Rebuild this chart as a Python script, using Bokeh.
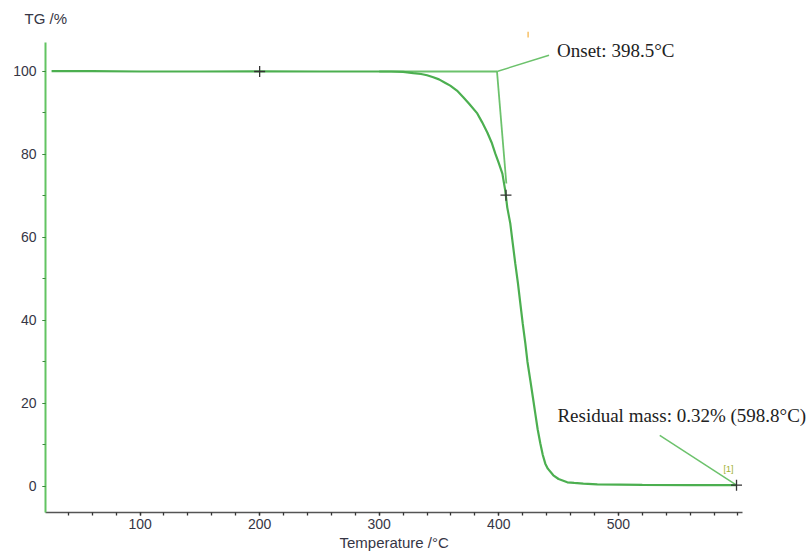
from bokeh.plotting import figure
from bokeh.models import Range1d, FixedTicker, Label, Title
from bokeh.embed import file_html
from bokeh.resources import INLINE

# TG curve (temperature in °C, mass in %)
temp = [26, 60, 100, 150, 200, 250, 300, 310, 320, 328.5, 335, 340, 345.2,
        350, 355, 359.4, 365, 370.3, 375, 382.0, 386, 390.4, 394, 397.1, 400,
        403.0, 405.4, 407.1, 409.6, 411.7, 413.8, 416, 418.0, 420, 422.2, 424,
        426.4, 428.5, 430.5, 432.5, 434.7, 436.8, 438.9, 441, 445.6, 450,
        457.3, 463, 470.7, 482.4, 520, 560, 598.8]
mass = [100.1, 100.1, 100.0, 100.0, 100.05, 100.0, 100.0, 100.0, 99.9, 99.6,
        99.4, 99.1, 98.6, 98.1, 97.3, 96.6, 95.4, 93.8, 92.3, 89.9, 87.8, 85.3,
        82.9, 80.2, 77.9, 75.4, 71.3, 67.2, 63.4, 58.5, 53.7, 49.0, 44.1, 39.3,
        34.5, 30.0, 25.5, 21.5, 17.6, 13.8, 10.4, 7.6, 5.5, 4.3, 2.7, 1.8,
        1.0, 0.85, 0.7, 0.5, 0.4, 0.35, 0.32]

marker_t = [200, 406, 598.8]
marker_m = [100, 70.2, 0.32]

onset_t = 398.5
onset_base_t = [300, 398.5]
onset_base_m = [100, 100]
tangent_t = [398.5, 406.3]
tangent_m = [100, 73.0]
onset_leader_t = [398.5, 442.0]
onset_leader_m = [100, 103.9]

residual_t = 598.8
residual_m = 0.32
residual_leader_t = [534.6, 598.8]
residual_leader_m = [12.3, 0.32]

orange_mark_t = [424.5, 424.5]
orange_mark_m = [109.6, 108.2]

x_ticks = [100, 200, 300, 400, 500]
x_minor = list(range(20, 620, 20))
y_ticks = [0, 20, 40, 60, 80, 100]
y_minor = list(range(0, 110, 10))

x_axis_span = (20.92, 603.8)
y_axis_span = (-6.27, 107.0)

p = figure(width=808, height=552,
           x_range=Range1d(20.92, 659.0), y_range=Range1d(-6.27, 110.36),
           output_backend="svg", toolbar_location=None,
           min_border_left=45, min_border_right=0,
           min_border_top=28, min_border_bottom=40)
p.outline_line_color = None
p.xgrid.visible = False
p.ygrid.visible = False
p.background_fill_color = "white"
p.border_fill_color = "white"

# y axis title at the top-left
p.title.text = "TG /%"
p.title.align = "left"
p.title.offset = -21
p.title.standoff = 4
p.title.text_font = "Liberation Sans"
p.title.text_font_size = "15px"
p.title.text_font_style = "normal"
p.title.text_color = "#363645"

# x axis
xa = p.xaxis[0]
xa.bounds = x_axis_span
xa.ticker = FixedTicker(ticks=x_ticks, minor_ticks=x_minor)
xa.axis_line_color = "#555555"
xa.axis_line_width = 1.6
xa.major_tick_in = 0
xa.major_tick_out = 3
xa.minor_tick_in = 0
xa.minor_tick_out = 3
xa.major_tick_line_color = "#333333"
xa.minor_tick_line_color = "#333333"
xa.major_tick_line_width = 1.3
xa.minor_tick_line_width = 1.3
xa.major_label_text_font = "Liberation Sans"
xa.major_label_text_font_size = "14px"
xa.major_label_text_color = "#363645"
xa.major_label_standoff = 3

# x axis title (placed below, centred on the axis span)
p.add_layout(Title(text="Temperature /°C", align="left", offset=294,
                   standoff=0, text_font="Liberation Sans",
                   text_font_size="15px", text_font_style="normal",
                   text_color="#363645"), "below")

# y axis
ya = p.yaxis[0]
ya.bounds = y_axis_span
ya.ticker = FixedTicker(ticks=y_ticks, minor_ticks=y_minor)
ya.axis_line_color = "#62c462"
ya.axis_line_width = 2
ya.major_tick_in = 0
ya.major_tick_out = 3
ya.minor_tick_in = 0
ya.minor_tick_out = 3
ya.major_tick_line_color = "#3d8a3d"
ya.minor_tick_line_color = "#3d8a3d"
ya.major_label_text_font = "Liberation Sans"
ya.major_label_text_font_size = "14px"
ya.major_label_text_color = "#363645"
ya.major_label_standoff = 6

green = "#4caf50"
light = "#6cc26c"

# onset construction lines
p.line(onset_base_t, onset_base_m, line_color=light, line_width=1.8)
p.line(tangent_t, tangent_m, line_color=light, line_width=1.8)
p.line(onset_leader_t, onset_leader_m, line_color=light, line_width=1.5)
p.line(residual_leader_t, residual_leader_m, line_color=light, line_width=1.5)
p.line(orange_mark_t, orange_mark_m, line_color="#f5b040", line_width=1.2)

# curve
p.line(temp, mass, line_color=green, line_width=2.2)

# markers
p.scatter(marker_t, marker_m, marker="cross", size=11, line_color="#333333",
          line_width=1.3)

# texts
p.add_layout(Label(x=448.7, y=105.1, text="Onset: %.1f°C" % onset_t,
                   text_font="Liberation Serif", text_font_size="19px",
                   text_color="#222222", text_baseline="alphabetic"))
p.add_layout(Label(x=449.0, y=17.2,
                   text="Residual mass: %.2f%% (%.1f°C)" % (residual_m, residual_t),
                   text_font="Liberation Serif", text_font_size="19px",
                   text_color="#222222", text_baseline="alphabetic"))
p.add_layout(Label(x=592, y=4.3, text="[1]", text_font="Liberation Sans",
                   text_font_size="9px", text_color="#a0b030",
                   text_align="center", text_baseline="middle"))

open("out.html", "w").write(file_html(p, INLINE))
